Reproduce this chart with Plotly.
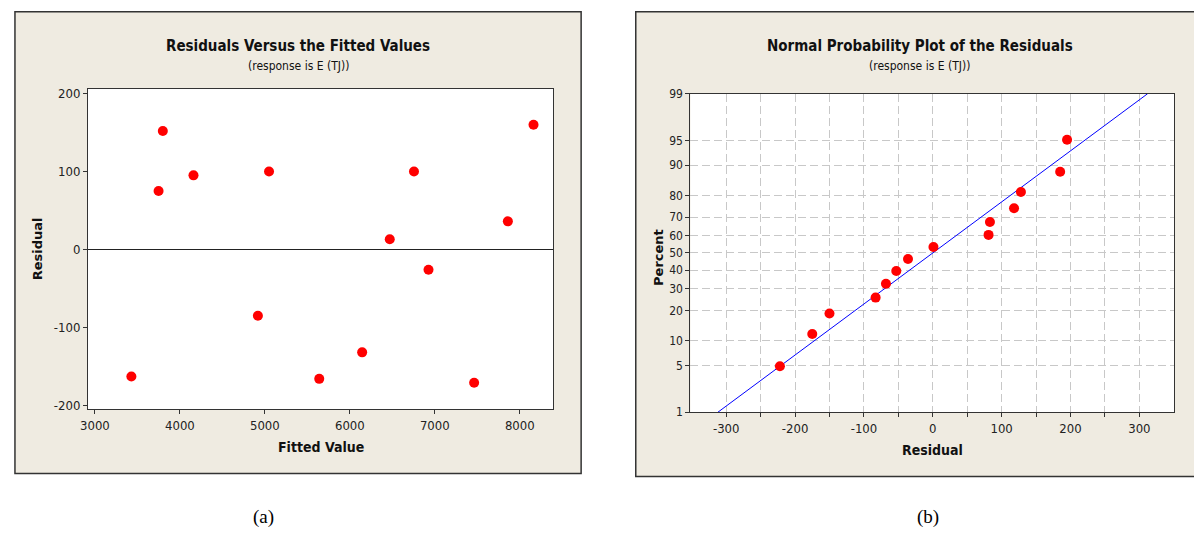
import plotly.graph_objects as go
from statistics import NormalDist

W, H = 1194, 539

# ---- data: residuals vs fitted values ----
fitted = [3429, 3749, 3799, 4160, 4918, 5049, 5640, 6145, 6470, 6755, 6926, 7463, 7860, 8162]
resid_a = [-163, 75, 152, 95, -85, 100, -166, -132, 13, 100, -26, -171, 36, 160]
x_ticks_a = [3000, 4000, 5000, 6000, 7000, 8000]
x_ticktext_a = ["3000", "4000", "5000", "6000", "7000", "8000"]
y_ticks_a = [-200, -100, 0, 100, 200]
y_ticktext_a = ["-200", "-100", "0", "100", "200"]

# ---- data: normal probability plot ----
resid_b = [-222, -175, -150, -83, -68, -53, -36, 1, 81, 83, 118, 128, 185, 195]
pct_b = [4.9, 11.8, 18.8, 25.7, 32.6, 39.6, 46.5, 53.5, 60.4, 67.4, 74.3, 81.3, 88.2, 95.1]
line_resid = [-312, 312]
line_pct = [1, 99]
pct_ticks = [1, 5, 10, 20, 30, 40, 50, 60, 70, 80, 90, 95, 99]
x_ticks_b = [-300, -250, -200, -150, -100, -50, 0, 50, 100, 150, 200, 250, 300]
x_ticktext_b = ["-300", "", "-200", "", "-100", "", "0", "", "100", "", "200", "", "300"]

nd = NormalDist()
def z(p):
    return nd.inv_cdf(p / 100.0)

def px(x):
    return x / W

def py(y):
    return 1 - y / H

NARROW = "Liberation Sans Narrow, DejaVu Sans Condensed, Arial Narrow, DejaVu Sans, sans-serif"
WIDE = "DejaVu Sans, Verdana, sans-serif"
BEIGE = "#EFEBE1"
GRID = "#C8C8C8"

fig = go.Figure()

fig.add_trace(go.Scatter(
    x=fitted, y=resid_a, mode="markers", xaxis="x", yaxis="y",
    marker=dict(color="#FF0000", size=10, line=dict(width=0)), showlegend=False))

fig.add_trace(go.Scatter(
    x=line_resid, y=[z(p) for p in line_pct], mode="lines", xaxis="x2", yaxis="y2",
    line=dict(color="#0000FF", width=1), showlegend=False))
fig.add_trace(go.Scatter(
    x=resid_b, y=[z(p) for p in pct_b], mode="markers", xaxis="x2", yaxis="y2",
    marker=dict(color="#FF0000", size=10, line=dict(width=0)), showlegend=False))

tickfont = dict(family=NARROW, size=13, color="#222")

fig.update_layout(
    width=W, height=H, autosize=False,
    margin=dict(l=0, r=0, t=0, b=0),
    paper_bgcolor="white", plot_bgcolor="white",
    xaxis=dict(domain=[px(80.5), px(549)], range=[2918, 8395], tickvals=x_ticks_a,
               ticktext=x_ticktext_a,
               ticks="outside", ticklen=4, tickcolor="#333", showgrid=False, zeroline=False,
               showline=True, linecolor="#333", linewidth=1, mirror=True, tickfont=tickfont),
    yaxis=dict(domain=[py(413), py(84)], range=[-205, 206], tickvals=y_ticks_a,
               ticktext=y_ticktext_a,
               ticks="outside", ticklen=4, tickcolor="#333", showgrid=False,
               zeroline=True, zerolinecolor="#222", zerolinewidth=1,
               showline=True, linecolor="#333", linewidth=1, mirror=True, tickfont=tickfont),
    xaxis2=dict(domain=[px(687), px(1174)], range=[-352, 350.5], tickvals=x_ticks_b,
                ticktext=x_ticktext_b, anchor="y2",
                ticks="outside", ticklen=4, tickcolor="#333",
                showgrid=True, gridcolor=GRID, griddash="8px,4px", gridwidth=1,
                zeroline=False, showline=True, linecolor="#333", linewidth=1, mirror=True,
                tickfont=tickfont),
    yaxis2=dict(domain=[py(416), py(89)], range=[z(1), z(99)],
                tickvals=[z(p) for p in pct_ticks], ticktext=[str(p) for p in pct_ticks],
                anchor="x2", ticks="outside", ticklen=4, tickcolor="#333",
                showgrid=True, gridcolor=GRID, griddash="8px,4px", gridwidth=1,
                zeroline=False, showline=True, linecolor="#333", linewidth=1, mirror=True,
                tickfont=dict(family=NARROW, size=12, color="#222")),
)

shapes = [
    dict(type="rect", xref="paper", yref="paper", x0=px(7), x1=px(577), y0=py(479), y1=py(5),
         fillcolor=BEIGE, line=dict(color="#333", width=1.5), layer="below"),
    dict(type="rect", xref="paper", yref="paper", x0=px(632), x1=px(1200), y0=py(482), y1=py(5),
         fillcolor=BEIGE, line=dict(color="#333", width=1.5), layer="below"),
    dict(type="rect", xref="paper", yref="paper", x0=px(80.5), x1=px(549), y0=py(413), y1=py(84),
         fillcolor="white", line=dict(width=0), layer="below"),
    dict(type="rect", xref="paper", yref="paper", x0=px(687), x1=px(1174), y0=py(416), y1=py(89),
         fillcolor="white", line=dict(width=0), layer="below"),
]
fig.update_layout(shapes=shapes)

def ann(text, x, y, size, family, angle=0, color="#111"):
    return dict(text=text, x=px(x), y=py(y), xref="paper", yref="paper", showarrow=False,
                xanchor="center", yanchor="middle", textangle=angle,
                font=dict(family=family, size=size, color=color))

annotations = [
    ann("<b>Residuals Versus the Fitted Values</b>", 292, 40, 15, NARROW),
    ann("(response is E (TJ))", 292, 61, 12, NARROW),
    ann("<b>Fitted Value</b>", 315, 452, 14, NARROW),
    ann("<b>Residual</b>", 30, 248, 13, WIDE, angle=-90),
    ann("<b>Normal Probability Plot of the Residuals</b>", 918, 40, 15, NARROW),
    ann("(response is E (TJ))", 918, 61, 12, NARROW),
    ann("<b>Residual</b>", 931, 455, 14, NARROW),
    ann("<b>Percent</b>", 655, 257, 13, WIDE, angle=-90),
    ann("(a)", 257, 524, 19, "Liberation Serif, Times New Roman, serif", color="#000"),
    ann("(b)", 926, 524, 19, "Liberation Serif, Times New Roman, serif", color="#000"),
]
fig.update_layout(annotations=annotations)

fig.write_html("out.html")
